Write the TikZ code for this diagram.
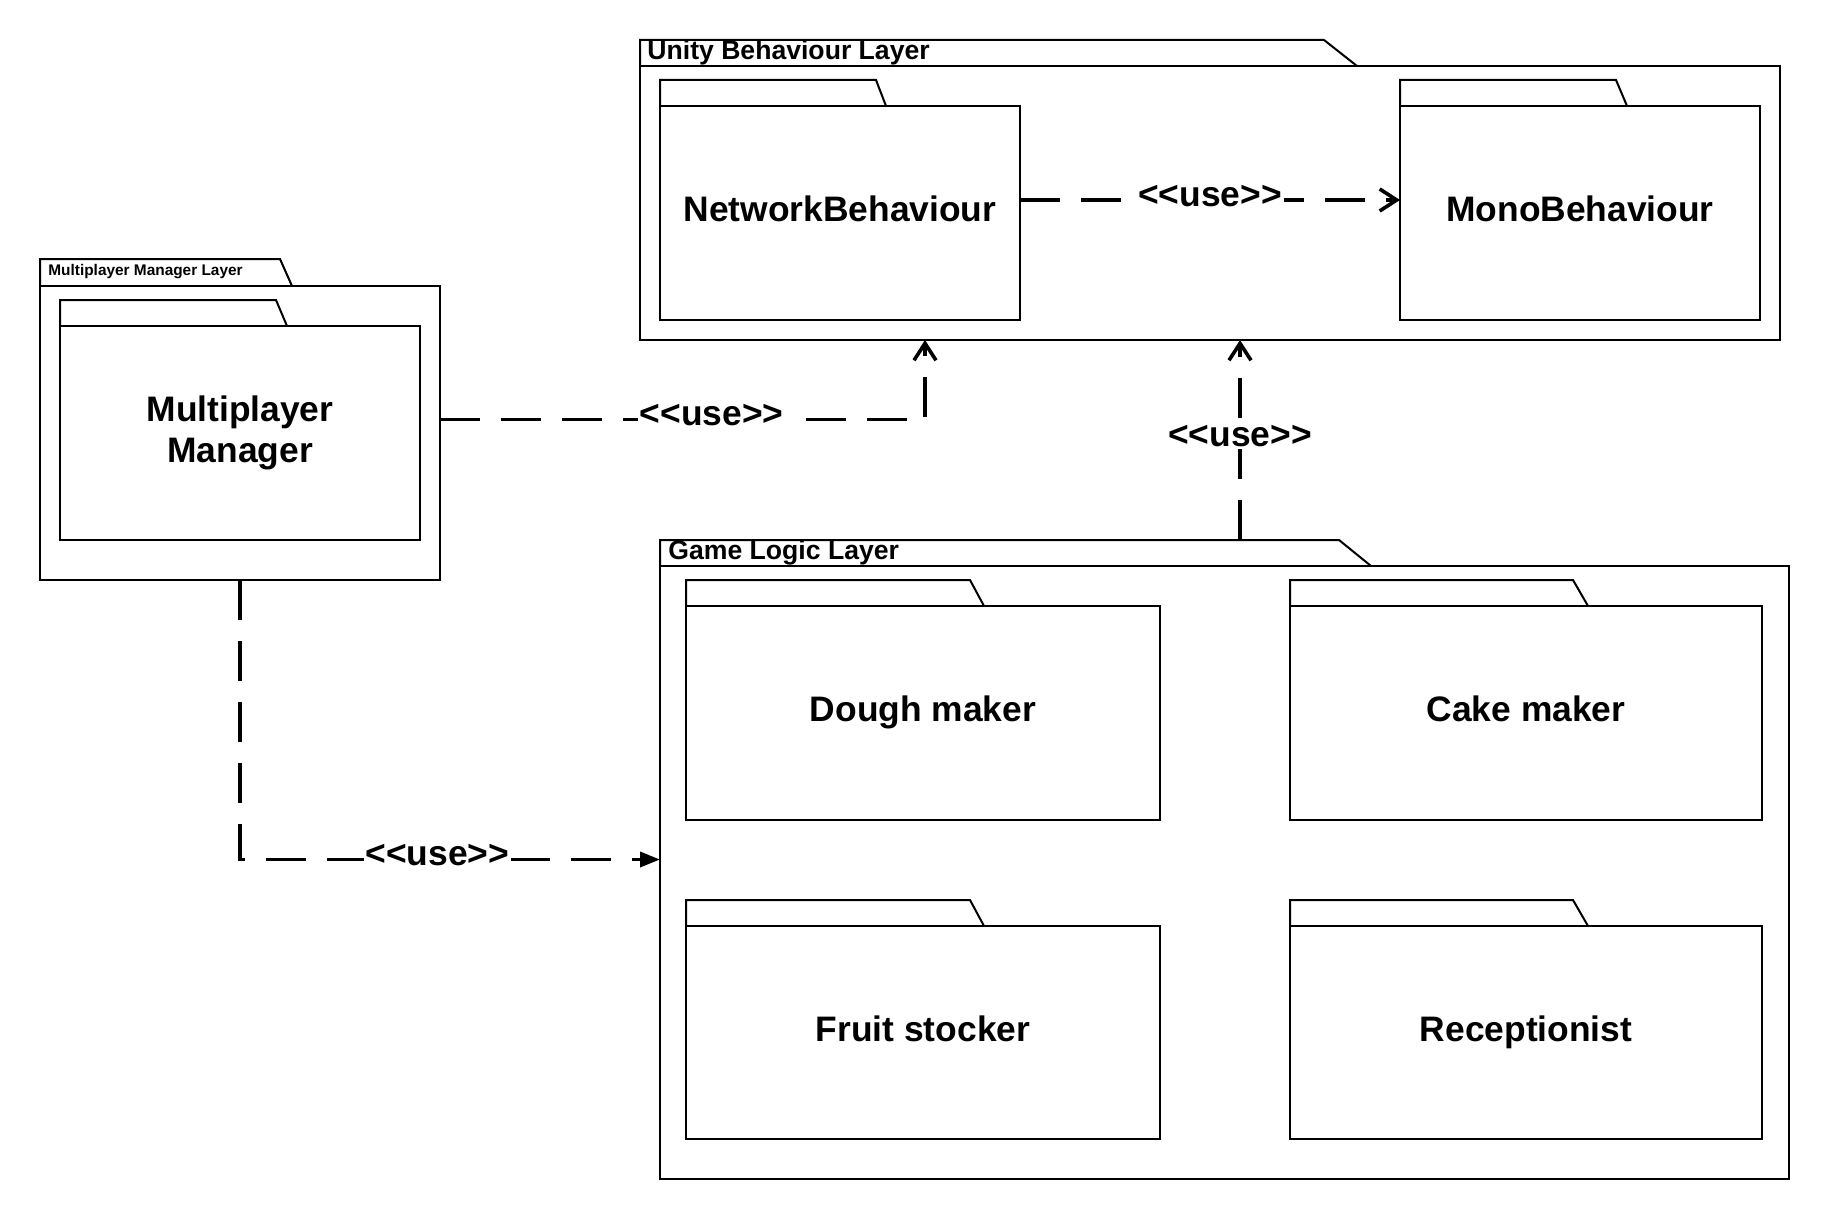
\documentclass[tikz,border=0pt]{standalone}
\usepackage{fontspec}
\setmainfont{Liberation Sans}
\usetikzlibrary{positioning,arrows.meta}

\begin{document}
\begin{tikzpicture}[
        x=0.5pt, y=-0.5pt,
        pkg/.style={rectangle, draw=black, line width=1pt, inner sep=0pt, outer sep=0pt, anchor=north west, align=center, text height=13pt, text depth=4.5pt, font=\fontsize{17.7}{20.7}\selectfont\bfseries},
        tab/.style={draw=black, line width=1pt},
        layertitle/.style={anchor=west, inner sep=0pt, font=\fontsize{13.3}{16}\selectfont\bfseries},
        smalltitle/.style={anchor=west, inner sep=0pt, font=\fontsize{7.7}{9}\selectfont\bfseries},
        use/.style={line width=1.8pt, dash pattern=on 20pt off 10.5pt, -{Straight Barb[length=8.5pt,width=11pt]}},
        uselabel/.style={fill=white, inner sep=1pt, yshift=2pt, font=\fontsize{17.7}{20.7}\selectfont\bfseries}
    ]
    \useasboundingbox (0,0) rectangle (1830,1220);

    % Unity Behaviour Layer
    \node[pkg, minimum width=570pt, minimum height=137pt] (unity) at (640,66) {};
    \draw[tab] (unity.north west) -- ++(0,-26) -- (1324,40) -- (1357,66);
    \node[layertitle] (unitytitle) at (647,53) {Unity Behaviour Layer};

    \node[pkg, minimum width=180pt, minimum height=107pt] (network) at (660,106) {NetworkBehaviour};
    \draw[tab] (network.north west) -- ++(0,-26) -- (876,80) -- (886,106);
    \node[pkg, minimum width=180pt, minimum height=107pt] (mono) at (1400,106) {MonoBehaviour};
    \draw[tab] (mono.north west) -- ++(0,-26) -- (1616,80) -- (1627,106);

    % Multiplayer Manager Layer
    \node[pkg, minimum width=200pt, minimum height=147pt] (mplayerlayer) at (40,286) {};
    \draw[tab] (mplayerlayer.north west) -- ++(0,-27) -- (280,259) -- (292,286);
    \node[smalltitle] (mplayertitle) at (48,272) {Multiplayer Manager Layer};

    \node[pkg, text height=, text depth=, minimum width=180pt, minimum height=107pt] (mplayer) at (60,326) {Multiplayer\\Manager};
    \draw[tab] (mplayer.north west) -- ++(0,-26) -- (276,300) -- (287,326);

    % Game Logic Layer
    \node[pkg, minimum width=564.5pt, minimum height=306.5pt] (game) at (660,566) {};
    \draw[tab] (game.north west) -- ++(0,-26) -- (1339,540) -- (1371,566);
    \node[layertitle] (gametitle) at (668,553) {Game Logic Layer};

    \node[pkg, minimum width=237pt, minimum height=107pt] (dough) at (686,606) {Dough maker};
    \draw[tab] (dough.north west) -- ++(0,-26) -- (970,580) -- (984,606);
    \node[pkg, minimum width=236pt, minimum height=107pt] (cake) at (1290,606) {Cake maker};
    \draw[tab] (cake.north west) -- ++(0,-26) -- (1573,580) -- (1588,606);
    \node[pkg, minimum width=237pt, minimum height=106.5pt] (fruit) at (686,926) {Fruit stocker};
    \draw[tab] (fruit.north west) -- ++(0,-26) -- (970,900) -- (984,926);
    \node[pkg, minimum width=236pt, minimum height=106.5pt] (reception) at (1290,926) {Receptionist};
    \draw[tab] (reception.north west) -- ++(0,-26) -- (1573,900) -- (1588,926);

    % Dependencies
    \draw[use] ([yshift=6.5pt]network.east) -- node[uselabel] {{<}{<}use{>}{>}} ([yshift=6.5pt]mono.west);
    \draw[use] ([yshift=6.75pt]mplayerlayer.east) -| node[uselabel, pos=0.28] {{<}{<}use{>}{>}} ([xshift=142.5pt]unity.south west);
    \draw[use] ([xshift=290pt,yshift=13pt]game.north west) -- node[uselabel] {{<}{<}use{>}{>}} ([xshift=300pt]unity.south west);
    \draw[use, -{Triangle[length=10pt,width=7.5pt]}] (mplayerlayer.south) |- node[uselabel, pos=0.735] {{<}{<}use{>}{>}} ([yshift=6.5pt]game.west);

\end{tikzpicture}
\end{document}
